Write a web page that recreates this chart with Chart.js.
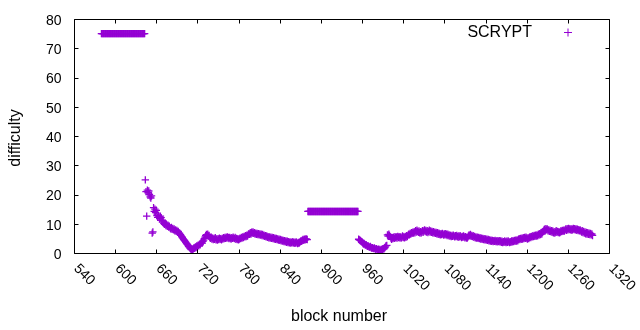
<!DOCTYPE html>
<html>
<head>
<meta charset="utf-8">
<script src="https://cdn.jsdelivr.net/npm/chart.js@4.4.1/dist/chart.umd.min.js"></script>
<style>
  html, body { margin: 0; padding: 0; background: #fff; }
  canvas { display: block; }
</style>
</head>
<body>
<canvas id="grafica" width="640" height="330"></canvas>
<script>
// --- data: one value per block, starting at FIRST_BLOCK ---
const FIRST_BLOCK = 580;
const seriesName = 'SCRYPT';
const xTicks = [540, 600, 660, 720, 780, 840, 900, 960, 1020, 1080, 1140, 1200, 1260, 1320];
const yTicks = [0, 10, 20, 30, 40, 50, 60, 70, 80];
const difficulty = [
  75, 75, 75, 75, 75, 75, 75, 75, 75, 75,               // 580
  75, 75, 75, 75, 75, 75, 75, 75, 75, 75,               // 590
  75, 75, 75, 75, 75, 75, 75, 75, 75, 75,               // 600
  75, 75, 75, 75, 75, 75, 75, 75, 75, 75,               // 610
  75, 75, 75, 75, 75, 75, 75, 75, 75, 75,               // 620
  75, 75, 75, 75, 75, 75, 75, 75, 75, 75,               // 630
  75, 75, 75, 75, 25, 21, 12.6, 21.5, 20.6, 21.2,       // 640
  20, 19.2, 18.8, 19.5, 6.8, 7.2, 15.5, 14.2, 15, 13.8, // 650
  14.6, 12.8, 12.2, 12.9, 12.4, 11.8, 12.6, 12.1, 11.2, 10.6, // 660
  11, 10.1, 9.8, 10.2, 9.4, 9.7, 9.1, 9.5, 8.9, 9.2,    // 670
  8.6, 8.3, 8.7, 8.1, 8.4, 7.9, 8.2, 7.6, 7.9, 7.4,     // 680
  7.7, 7.1, 7.4, 6.9, 6.7, 6.3, 6, 5.6, 5.3, 4.9,       // 690
  4.6, 4.3, 4, 3.6, 3.3, 3, 2.7, 2.3, 2, 1.7,           // 700
  1.4, 1.2, 1.5, 1.1, 1.4, 1.8, 1.6, 2.1, 1.9, 2.4,     // 710
  2.2, 2.7, 2.5, 3, 2.8, 3.3, 3.6, 3.4, 4, 4.4,         // 720
  4.9, 5.4, 5.9, 6.3, 6.1, 6.4, 5.8, 6, 5.3, 5,         // 730
  5.4, 4.8, 5.1, 4.6, 5, 4.7, 5.2, 4.5, 4.8, 4.4,       // 740
  4.9, 4.6, 5.1, 4.7, 4.9, 4.5, 5, 4.8, 5.2, 4.9,       // 750
  5.3, 5, 5.4, 5.1, 5.5, 5.2, 4.9, 5.3, 5.1, 4.8,       // 760
  5.2, 5, 5.4, 5.1, 4.9, 5.3, 4.7, 5, 4.6, 4.9,         // 770
  4.5, 4.8, 5.1, 4.9, 5.3, 5.1, 5.5, 5.3, 5.7, 5.5,     // 780
  5.9, 5.6, 6.1, 5.8, 6.3, 6.6, 6.4, 6.9, 6.5, 7.1,     // 790
  6.8, 7.2, 6.7, 6.9, 6.5, 6.8, 6.4, 6.7, 6.3, 6.6,     // 800
  6.2, 6.5, 6.1, 6.4, 6, 6.3, 5.9, 6.1, 5.7, 5.9,       // 810
  5.5, 5.8, 5.4, 5.6, 5.2, 5.5, 5.1, 5.4, 5, 5.3,       // 820
  4.9, 5.2, 4.8, 5.1, 4.7, 5, 4.6, 4.8, 4.4, 4.7,       // 830
  4.3, 4.6, 4.2, 4.5, 4.1, 4.3, 3.9, 4.2, 3.8, 4.1,     // 840
  3.7, 4, 3.6, 3.9, 3.5, 3.8, 3.4, 3.7, 3.5, 3.9,       // 850
  3.6, 3.3, 3.7, 3.4, 3.8, 3.5, 3.2, 3.6, 3.3, 3.7,     // 860
  3.9, 4.2, 4, 4.4, 4.6, 4.3, 4.7, 4.5, 4.8, 4.7,       // 870
  4.6, 14.2, 14.2, 14.2, 14.2, 14.2, 14.2, 14.2, 14.2, 14.2, // 880
  14.2, 14.2, 14.2, 14.2, 14.2, 14.2, 14.2, 14.2, 14.2, 14.2, // 890
  14.2, 14.2, 14.2, 14.2, 14.2, 14.2, 14.2, 14.2, 14.2, 14.2, // 900
  14.2, 14.2, 14.2, 14.2, 14.2, 14.2, 14.2, 14.2, 14.2, 14.2, // 910
  14.2, 14.2, 14.2, 14.2, 14.2, 14.2, 14.2, 14.2, 14.2, 14.2, // 920
  14.2, 14.2, 14.2, 14.2, 14.2, 14.2, 14.2, 14.2, 14.2, 14.2, // 930
  14.2, 14.2, 14.2, 14.2, 14.2, 14.2, 14.2, 14.2, 14.2, 14.2, // 940
  14.2, 14.2, 14.2, 14.2, 14.2, 4.7, 4.5, 4.4, 4.2, 3.9, // 950
  3.8, 3.4, 3.1, 3.3, 2.9, 2.7, 2.8, 2.5, 2.3, 2.4,     // 960
  2.1, 2, 2.2, 1.9, 1.7, 1.8, 1.6, 1.5, 1.7, 1.4,       // 970
  1.3, 1.5, 1.2, 1.1, 1.3, 1, 1.2, 0.9, 1.1, 1.3,       // 980
  1.2, 1.5, 1.4, 1.8, 2.1, 2.5, 2.6, 6.2, 5.8, 6.4,     // 990
  6, 5.6, 5.1, 4.7, 5.2, 4.9, 5.4, 5, 5.6, 5.2,         // 1000
  5.5, 5.1, 5.7, 5.3, 5.6, 5.2, 5.5, 5.1, 5.4, 5.8,     // 1010
  5.3, 5.6, 5.2, 5.7, 5.4, 5.9, 5.6, 6.1, 6.4, 6.2,     // 1020
  6.7, 6.5, 6.9, 6.7, 7.1, 6.8, 7.3, 6.9, 7.6, 7.2,     // 1030
  7.8, 7.4, 7.1, 7.5, 6.9, 7.3, 6.8, 7.2, 7.6, 7.1,     // 1040
  7.5, 7.9, 7.3, 7.7, 7.2, 7.6, 7, 7.4, 7.8, 7.2,       // 1050
  7.5, 7.1, 7.4, 6.9, 7.3, 6.8, 7.1, 6.7, 7, 6.6,       // 1060
  6.9, 6.4, 6.8, 6.5, 6.2, 6.6, 6.3, 6.7, 6.4, 6.1,     // 1070
  6.5, 6.2, 6.6, 6.3, 6, 6.4, 6.1, 5.8, 6.2, 5.9,       // 1080
  5.6, 6, 5.7, 6.1, 5.8, 5.5, 5.9, 5.6, 6, 5.7,         // 1090
  5.4, 5.8, 5.5, 5.9, 5.6, 5.3, 5.7, 5.4, 5.8, 5.5,     // 1100
  5.2, 5.6, 5.3, 5, 5.4, 5.8, 6.2, 5.9, 6.3, 5.7,       // 1110
  6, 5.6, 5.9, 5.4, 5.7, 5.2, 5.5, 5.1, 5.4, 5,         // 1120
  5.3, 4.9, 5.2, 4.8, 5.1, 4.7, 5, 4.6, 4.9, 4.5,       // 1130
  4.8, 4.4, 4.7, 4.3, 4.6, 4.2, 4.5, 4.1, 4.4, 4,       // 1140
  4.3, 3.9, 4.2, 4, 4.3, 3.9, 4.1, 3.8, 4.2, 3.9,       // 1150
  4.2, 3.8, 4.1, 3.7, 4, 3.6, 3.9, 3.7, 4.1, 3.8,       // 1160
  3.6, 4, 3.7, 4.1, 3.8, 3.6, 3.9, 3.7, 4.1, 3.8,       // 1170
  4.2, 3.9, 4.3, 4, 4.4, 4.1, 4.5, 4.2, 4.6, 4.9,       // 1180
  4.6, 5, 4.7, 5.1, 4.8, 5.2, 4.9, 5.3, 5, 5.4,         // 1190
  5.1, 4.8, 5.2, 4.9, 5.3, 5.6, 5.3, 5.7, 5.5, 5.9,     // 1200
  5.6, 6, 5.7, 6.1, 5.8, 6.2, 5.9, 6.4, 6.1, 6.6,       // 1210
  6.3, 6.8, 6.5, 7, 7.4, 7.8, 8.1, 7.7, 8.3, 7.9,       // 1220
  8.2, 7.6, 7.9, 7.4, 7.8, 7.3, 7.6, 7.1, 7.5, 6.9,     // 1230
  7.3, 6.8, 7.2, 7.6, 7.1, 7.4, 7, 7.3, 6.9, 7.2,       // 1240
  7.6, 7.3, 7.7, 7.4, 7.8, 7.5, 7.9, 8.2, 7.8, 8.3,     // 1250
  7.9, 8.4, 8, 8.3, 7.9, 8.2, 7.8, 8.1, 8.4, 8,         // 1260
  8.3, 7.9, 8.2, 7.8, 8.1, 7.7, 8, 7.6, 7.9, 7.5,       // 1270
  7.2, 7.6, 7, 7.4, 6.8, 7.2, 6.6, 7, 6.5, 6.9,         // 1280
  6.4, 6.8, 6.3, 6.7, 6.2, 6.5, 6                       // 1290
];

const PURPLE = '#9400d3';
const FUENTE = '"Liberation Sans", Arial, sans-serif';

const puntos = difficulty.map((v, i) => ({ x: FIRST_BLOCK + i, y: v }));

// marco estilo gnuplot: caja, marcas hacia dentro, etiquetas, títulos y leyenda
const marcoGnuplot = {
  id: 'marcoGnuplot',
  afterDraw(chart) {
    const ctx = chart.ctx;
    const a = chart.chartArea;
    const sx = chart.scales.x, sy = chart.scales.y;
    const L = Math.round(a.left) + 0.5, R = Math.round(a.right) + 0.5;
    const T = Math.round(a.top) + 0.5, B = Math.round(a.bottom) + 0.5;
    const tick = 4;

    ctx.save();
    ctx.strokeStyle = '#000'; ctx.lineWidth = 1;
    ctx.beginPath();
    ctx.rect(L, T, R - L, B - T);
    xTicks.forEach(v => {
      const px = Math.round(sx.getPixelForValue(v)) + 0.5;
      ctx.moveTo(px, B); ctx.lineTo(px, B - tick);
      ctx.moveTo(px, T); ctx.lineTo(px, T + tick);
    });
    yTicks.forEach(v => {
      const py = Math.round(sy.getPixelForValue(v)) + 0.5;
      ctx.moveTo(L, py); ctx.lineTo(L + tick, py);
      ctx.moveTo(R, py); ctx.lineTo(R - tick, py);
    });
    ctx.stroke();

    ctx.fillStyle = '#000';
    ctx.font = '14px ' + FUENTE;
    ctx.textAlign = 'right'; ctx.textBaseline = 'middle';
    yTicks.forEach(v => { ctx.fillText(String(v), L - 13, sy.getPixelForValue(v) + 2); });

    ctx.textAlign = 'left';
    xTicks.forEach(v => {
      ctx.save();
      ctx.translate(sx.getPixelForValue(v) + 2, B + 13);
      ctx.rotate(Math.PI / 4);
      ctx.fillText(String(v), 0, 0);
      ctx.restore();
    });

    ctx.font = '16px ' + FUENTE;
    ctx.textAlign = 'center';
    ctx.fillText('block number', 339, 317);
    ctx.save();
    ctx.translate(16, 138);
    ctx.rotate(-Math.PI / 2);
    ctx.fillText('difficulty', 0, 0);
    ctx.restore();

    // leyenda
    ctx.textAlign = 'right';
    ctx.fillText(chart.data.datasets[0].label, 532, 33);
    ctx.strokeStyle = PURPLE;
    ctx.beginPath();
    ctx.moveTo(564, 32.5); ctx.lineTo(572, 32.5);
    ctx.moveTo(568, 28.5); ctx.lineTo(568, 36.5);
    ctx.stroke();
    ctx.restore();
  }
};

new Chart(document.getElementById('grafica'), {
  type: 'scatter',
  data: {
    datasets: [{
      label: seriesName,
      data: puntos,
      pointStyle: 'cross',
      pointRadius: 3.7,
      pointBorderWidth: 1.3,
      borderColor: PURPLE,
      backgroundColor: PURPLE,
      showLine: false
    }]
  },
  options: {
    responsive: false,
    animation: false,
    devicePixelRatio: 1,
    layout: { padding: { top: 19, right: 31, left: 0, bottom: 0 } },
    plugins: { legend: { display: false }, tooltip: { enabled: false } },
    scales: {
      x: {
        type: 'linear', min: 540, max: 1320,
        ticks: { display: false, stepSize: 60 },
        grid: { display: false, drawTicks: false },
        border: { display: false },
        afterFit: s => { s.height = 77; }
      },
      y: {
        min: 0, max: 80,
        ticks: { display: false, stepSize: 10 },
        grid: { display: false, drawTicks: false },
        border: { display: false },
        afterFit: s => { s.width = 74; }
      }
    }
  },
  plugins: [marcoGnuplot]
});
</script>
</body>
</html>
